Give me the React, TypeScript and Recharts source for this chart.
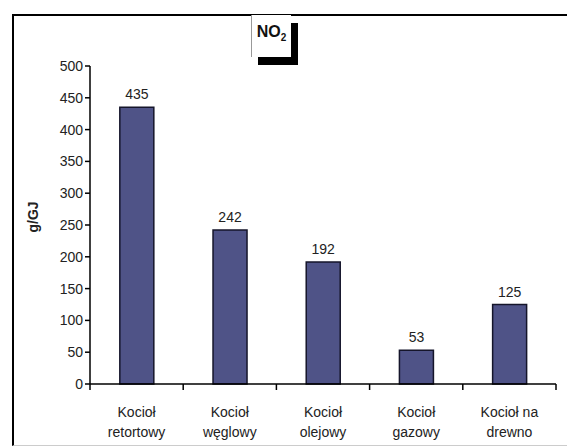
import React from "react";
import { BarChart, Bar, XAxis, YAxis, LabelList, Customized } from "recharts";

const categories = ["Kocioł retortowy", "Kocioł węglowy", "Kocioł olejowy", "Kocioł gazowy", "Kocioł na drewno"];
const categoryLine1 = ["Kocioł", "Kocioł", "Kocioł", "Kocioł", "Kocioł na"];
const categoryLine2 = ["retortowy", "węglowy", "olejowy", "gazowy", "drewno"];
const no2Values = [435, 242, 192, 53, 125];
const yTicks = [0, 50, 100, 150, 200, 250, 300, 350, 400, 450, 500];

const data = categories.map((c, i) => ({ name: c, l1: categoryLine1[i], l2: categoryLine2[i], value: no2Values[i] }));

const FONT = "'Liberation Sans', Arial, sans-serif";

const XTick = (props: any) => {
  const { x, y, index, visibleTicksCount } = props;
  const band = 93.2;
  const d = data[index] || { l1: "", l2: "" };
  const last = index === (visibleTicksCount ?? data.length) - 1;
  return (
    <g>
      <line x1={x - band / 2} x2={x - band / 2} y1={y - 8} y2={y - 2} stroke="#000" strokeWidth={1.5} />
      {last && <line x1={x + band / 2} x2={x + band / 2} y1={y - 8} y2={y - 2} stroke="#000" strokeWidth={1.5} />}
      <text x={x} y={y + 25} textAnchor="middle" fontFamily={FONT} fontSize={14} fill="#222">{d.l1}</text>
      <text x={x} y={y + 45} textAnchor="middle" fontFamily={FONT} fontSize={14} fill="#222">{d.l2}</text>
    </g>
  );
};

const PlotFrame = (props: any) => {
  const off = props.offset;
  if (!off) return null;
  const { left, top, width, height } = off;
  return (
    <g>
      <line x1={left} x2={left + width} y1={top} y2={top} stroke="#000" strokeWidth={1.5} />
      <line x1={left + width} x2={left + width} y1={top} y2={top + height} stroke="#000" strokeWidth={1.5} />
    </g>
  );
};

export default function App() {
  return (
    <div style={{ position: "absolute", left: 0, top: 0, width: 567, height: 448, background: "#fff", overflow: "hidden" }}>
      <div style={{ position: "absolute", left: 12, top: 14, width: 600, height: 429, borderLeft: "2px solid #000", borderTop: "2px solid #000", borderBottom: "1px solid #ccc" }} />
      <div style={{ position: "absolute", left: 0, top: 0 }}>
        <BarChart width={567} height={448} data={data} margin={{ top: 66, right: 11, bottom: 0, left: 0 }} barCategoryGap="32%">
          <Customized component={PlotFrame} />
          <YAxis
            type="number"
            domain={[0, 500]}
            ticks={yTicks}
            width={90}
            interval={0}
            axisLine={{ stroke: "#000", strokeWidth: 1.5 }}
            tickLine={{ stroke: "#000", strokeWidth: 1.5 }}
            tickSize={5}
            tick={{ fontFamily: FONT, fontSize: 14, fill: "#222" }}
            label={{ value: "g/GJ", angle: -90, position: "insideLeft", offset: 33, dy: -8, style: { fontFamily: FONT, fontSize: 14, fontWeight: "bold", fill: "#222", textAnchor: "middle" } }}
          />
          <XAxis
            dataKey="name"
            height={64}
            interval={0}
            axisLine={{ stroke: "#000", strokeWidth: 1.5 }}
            tickLine={false}
            tick={<XTick />}
          />
          <Bar dataKey="value" fill="#4f5387" stroke="#15152a" strokeWidth={1.5} isAnimationActive={false}>
            <LabelList dataKey="value" position="top" offset={8} style={{ fontFamily: FONT, fontSize: 14, fill: "#222" }} />
          </Bar>
        </BarChart>
      </div>
      <div style={{ position: "absolute", left: 251, top: 15, width: 39, height: 42, background: "#fff", borderLeft: "1px solid #999", boxShadow: "7px 8px 0 #000", display: "flex", alignItems: "flex-start", justifyContent: "center" }}>
        <span style={{ fontFamily: FONT, fontWeight: "bold", fontSize: 16, color: "#111", marginTop: 8, whiteSpace: "nowrap" }}>NO<sub style={{ fontSize: 10 }}>2</sub></span>
      </div>
    </div>
  );
}
